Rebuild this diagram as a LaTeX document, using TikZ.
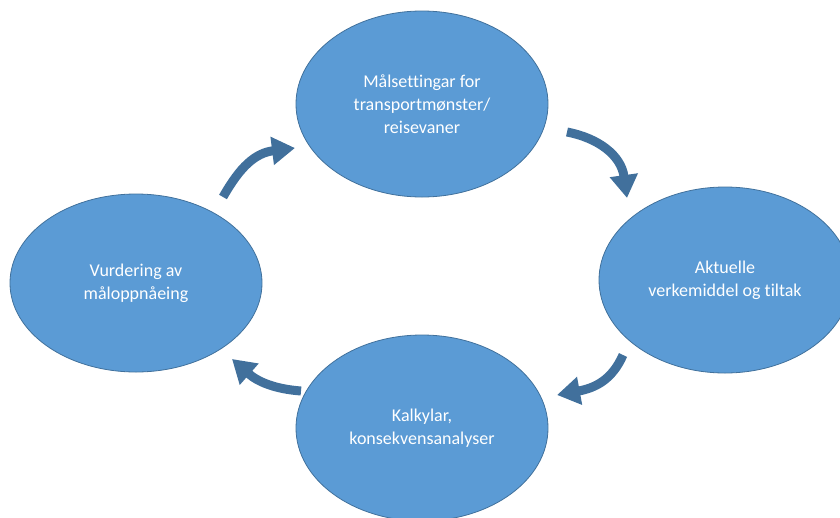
\documentclass[tikz,border=0pt]{standalone}
\usepackage{fontspec}
\setmainfont[Ligatures={CommonOff}]{Carlito}
\usetikzlibrary{shapes.geometric,arrows.meta}
\definecolor{blobfill}{HTML}{5B9BD5}
\definecolor{blobline}{HTML}{41719C}
\definecolor{arrowcol}{HTML}{41709C}
\tikzset{
  blob/.style={ellipse, fill=blobfill, draw=blobline, line width=0.8pt,
    minimum width=252pt, minimum height=186pt, inner sep=0pt,
    text=white, align=center, font=\fontsize{18pt}{23pt}\selectfont},
  cyclearrow/.style={draw=arrowcol, line width=9pt,
    -{Triangle[length=23pt,width=27pt]}, fill=none}
}
\begin{document}
\begin{tikzpicture}[x=1pt,y=-1pt]
\useasboundingbox (0,0) rectangle (840,517);
\clip (0,0) rectangle (840,517);
\node[blob] (top) at (422,104) {Målsettingar for\\transportmønster/\\reisevaner};
\node[blob] (right) at (725,280) {Aktuelle\\verkemiddel og tiltak};
\node[blob] (bottom) at (422,428) {Kalkylar,\\konsekvensanalyser};
\node[blob, minimum height=178pt] (left) at (136,283) {Vurdering av\\måloppnåeing};
\coordinate (a1s) at (223,197);
\coordinate (a1e) at (295,148);
\coordinate (a2s) at (567,132);
\coordinate (a2e) at (627,198);
\coordinate (a3s) at (623,355);
\coordinate (a3e) at (557,395);
\coordinate (a4s) at (301,391);
\coordinate (a4e) at (232,359);
\draw[cyclearrow] (a1s) .. controls (240,167) and (255,153) .. (a1e);
\draw[cyclearrow] (a2s) .. controls (598,138) and (621,155) .. (a2e);
\draw[cyclearrow] (a3s) .. controls (612,380) and (595,388) .. (a3e);
\draw[cyclearrow] (a4s) .. controls (275,389) and (258,382) .. (a4e);
\end{tikzpicture}
\end{document}
